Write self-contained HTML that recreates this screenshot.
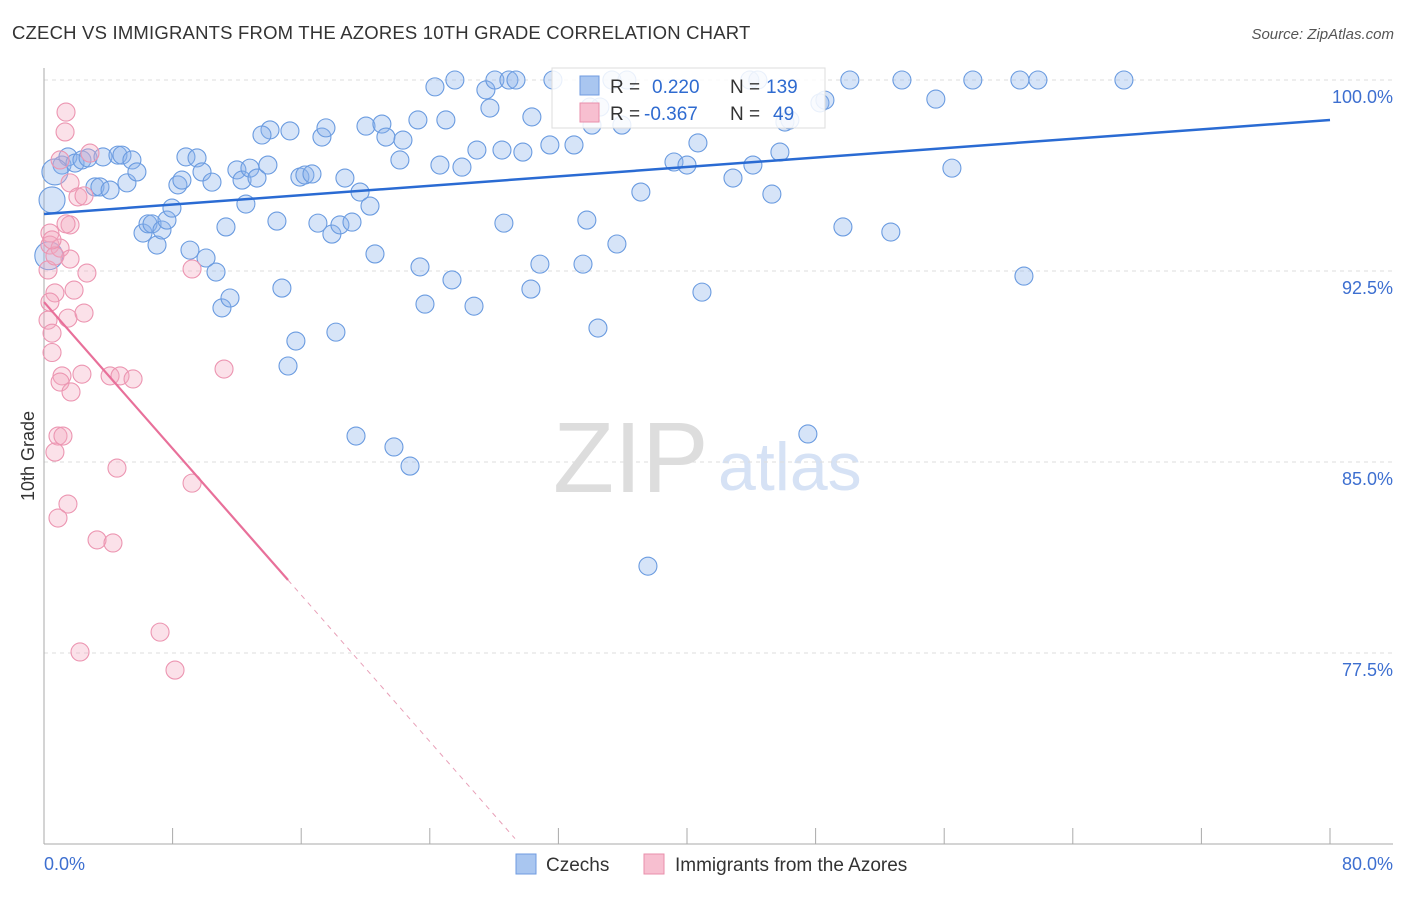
<!DOCTYPE html>
<html><head><meta charset="utf-8">
<style>
body{margin:0;background:#fff;font-family:"Liberation Sans",sans-serif;}
svg text{font-family:"Liberation Sans",sans-serif;}
</style></head>
<body>
<svg id="chart" width="1406" height="892" viewBox="0 0 1406 892" xmlns="http://www.w3.org/2000/svg">
<text x="12" y="39" font-size="18.5" letter-spacing="0.2" fill="#333">CZECH VS IMMIGRANTS FROM THE AZORES 10TH GRADE CORRELATION CHART</text>
<text x="1394" y="39" font-size="15" fill="#555" text-anchor="end" font-style="italic">Source: ZipAtlas.com</text>
<g>
<text x="553" y="492" font-size="100" fill="#ddd" font-family="Liberation Serif">ZIP</text>
<text x="718" y="490" font-size="68" fill="#d6e2f5">atlas</text>
</g>
<g id="grid"></g>
<g id="axes"></g>
<g id="pts"></g>
<g id="trend"></g>
<g>
<rect x="552" y="68" width="273" height="60" fill="#fff" fill-opacity="0.85" stroke="#ddd"/>
<rect x="580" y="76" width="19" height="19" fill="#a9c6f0" stroke="#6f9be0"/>
<rect x="580" y="103" width="19" height="19" fill="#f7bfd0" stroke="#e98fab"/>
<text x="610" y="93" font-size="19" fill="#333">R = <tspan fill="#2f6bd0" x="652">0.220</tspan><tspan x="730" fill="#333">N =</tspan><tspan x="766" fill="#2f6bd0">139</tspan></text>
<text x="610" y="120" font-size="19" fill="#333">R = <tspan fill="#2f6bd0" x="644">-0.367</tspan><tspan x="730" fill="#333">N =</tspan><tspan x="773" fill="#2f6bd0">49</tspan></text>
</g>
<g>
<rect x="516" y="854" width="20" height="20" fill="#a9c6f0" stroke="#6f9be0"/>
<text x="546" y="871" font-size="19" fill="#333">Czechs</text>
<rect x="644" y="854" width="20" height="20" fill="#f7bfd0" stroke="#e98fab"/>
<text x="675" y="871" font-size="19" fill="#333">Immigrants from the Azores</text>
</g>
<text x="34" y="456" font-size="18" fill="#333" transform="rotate(-90 34 456)" text-anchor="middle">10th Grade</text>
</svg>
<script>
const yTicks=[100,92.5,85,77.5];
const yTickLabels=["100.0%","92.5%","85.0%","77.5%"];
const xEndLabels=["0.0%","80.0%"];
const czX=[1.12,1.49,1.93,2.36,2.74,0.68,0.50,3.17,3.48,3.67,4.11,4.60,4.85,5.16,5.47,5.78,6.16,6.47,6.72,7.03,7.34,7.65,7.96,8.33,8.58,8.83,9.08,9.52,9.83,10.08,10.45,10.70,11.07,11.32,11.57,12.00,12.32,12.56,12.81,13.25,13.93,14.06,13.56,14.49,14.80,15.30,15.67,15.18,15.92,16.23,16.67,17.04,17.29,17.54,17.91,18.16,18.41,18.72,19.16,19.41,19.66,20.03,20.28,20.59,21.02,21.27,21.77,22.14,22.33,22.77,23.26,23.39,23.70,24.32,24.63,25.00,25.38,25.56,26.00,26.75,26.93,27.49,27.74,28.05,28.49,28.61,28.92,29.36,29.79,30.35,30.85,30.29,31.47,31.66,32.97,33.53,33.77,34.46,34.58,35.64,35.95,36.26,37.13,37.57,39.19,40.00,40.68,40.93,42.86,43.91,44.10,44.41,45.28,45.78,46.09,46.40,47.52,48.27,48.58,49.70,50.13,52.68,53.37,55.48,56.48,57.78,60.71,60.96,61.83,67.18,35.33,33.96,34.09];
const czY=[96.66,96.98,96.74,96.86,96.94,96.39,95.29,95.80,95.80,96.98,95.68,97.05,97.05,95.96,96.86,96.39,93.99,94.35,94.35,93.52,94.11,94.50,94.97,95.88,96.07,96.98,93.32,96.94,96.39,93.01,95.99,92.46,91.05,94.23,91.44,96.47,96.07,95.13,96.54,96.15,96.66,98.04,97.84,94.46,91.83,98.00,89.75,88.77,96.19,96.27,96.31,94.38,97.76,98.12,93.95,90.10,94.31,96.15,94.42,86.02,95.60,98.19,95.05,93.17,98.27,97.76,85.59,96.86,97.64,84.84,98.43,92.66,91.20,99.73,96.66,98.43,92.15,100,96.58,91.12,97.25,99.61,98.90,100,97.25,94.38,100,100,97.17,98.55,92.77,91.79,97.45,100,97.45,92.77,94.50,90.26,98.94,93.56,98.23,100,95.60,80.91,96.78,96.66,97.53,91.67,96.15,100,96.66,100,95.52,97.17,98.35,98.43,86.10,99.10,99.21,94.23,100,94.03,100,99.25,96.54,100,100,92.30,100,100,100,98.94,98.23];
const azX=[1.37,1.31,2.86,1.00,1.62,2.11,2.49,1.62,1.37,0.37,0.37,1.00,1.62,2.67,0.25,1.87,0.68,0.37,0.25,1.49,2.49,0.50,0.50,1.12,1.00,1.68,2.36,4.11,4.73,5.54,9.21,11.20,0.87,1.18,0.68,4.54,9.21,1.49,0.87,3.30,4.29,7.22,2.24,8.15,0.68,0.50];
const azY=[98.74,97.96,97.13,96.86,95.96,95.41,95.45,94.31,94.35,93.99,93.52,93.40,92.97,92.42,92.54,91.75,91.64,91.28,90.57,90.65,90.85,90.06,89.30,88.38,88.14,87.75,88.45,88.38,88.38,88.26,92.58,88.65,86.02,86.02,85.39,84.76,84.17,83.35,82.80,81.94,81.82,78.32,77.54,76.83,93.09,93.72];
const czTrend=[94.74,98.43];
const azTrend=[91.28,-0.719];
const azSolidEnd=15.18;
const azDashEnd=29.3;

const NS="http://www.w3.org/2000/svg";
const X0=44,X1=1330,Y0=844,Y1=80;
function sx(v){return X0+(v/80)*(X1-X0);}
function sy(v){return Y0-((v-70)/30)*(Y0-Y1);}
function mk(t,a,p){const e=document.createElementNS(NS,t);for(const k in a)e.setAttribute(k,a[k]);p.appendChild(e);return e;}
const grid=document.getElementById('grid'),axes=document.getElementById('axes'),pts=document.getElementById('pts'),trend=document.getElementById('trend');
yTicks.forEach((v,i)=>{
 const l=mk('line',{x1:X0,x2:1393,y1:sy(v),y2:sy(v),stroke:'#ddd','stroke-dasharray':'4,4'},grid);
 
 
 const t=mk('text',{x:1393,y:sy(v)+23,'font-size':18,fill:'#3d6fd0','text-anchor':'end'},grid);
 t.textContent=yTickLabels[i];
 
 
});
const ya=mk('line',{x1:X0,x2:X0,y1:68,y2:Y0,stroke:'#aaa'},axes);


const xa=mk('line',{x1:X0,x2:1393,y1:Y0,y2:Y0,stroke:'#aaa'},axes);


for(let i=0;i<=10;i++){
 const tk=mk('line',{x1:sx(i*8),x2:sx(i*8),y1:Y0,y2:Y0-16,stroke:'#aaa'},axes);
 
 
}
[[0,'start',44],[80,'end',1393]].forEach((d,i)=>{
 const t=mk('text',{x:d[2],y:870,'font-size':18,fill:'#3d6fd0','text-anchor':d[1]},axes);
 t.textContent=xEndLabels[i];
 
 
});
czX.forEach((x,i)=>{
 const big=(i===5||i===6);
 const c=mk('circle',{cx:sx(x),cy:sy(czY[i]),r:big?13:9,fill:'#8ab2ea','fill-opacity':0.35,stroke:'#6a9be0','stroke-width':1.1},pts);
 
 
});
const bigc=mk('circle',{cx:sx(0.3),cy:sy(93.1),r:14,fill:'#8ab2ea','fill-opacity':0.35,stroke:'#6a9be0','stroke-width':1.1},pts);


azX.forEach((x,i)=>{
 const c=mk('circle',{cx:sx(x),cy:sy(azY[i]),r:9,fill:'#f4a8c0','fill-opacity':0.35,stroke:'#ec95b1','stroke-width':1.1},pts);
 
 
});
const bl=mk('line',{x1:sx(0),y1:sy(czTrend[0]),x2:sx(80),y2:sy(czTrend[1]),stroke:'#2a6bd3','stroke-width':2.5},trend);


const pl=mk('line',{x1:sx(0),y1:sy(azTrend[0]),x2:sx(azSolidEnd),y2:sy(azTrend[0]+azTrend[1]*azSolidEnd),stroke:'#e8709a','stroke-width':2.2},trend);


const pd=mk('line',{x1:sx(azSolidEnd),y1:sy(azTrend[0]+azTrend[1]*azSolidEnd),x2:sx(azDashEnd),y2:sy(azTrend[0]+azTrend[1]*azDashEnd),stroke:'#e8a0b8','stroke-width':1,'stroke-dasharray':'5,5'},trend);


</script>
</body></html>
